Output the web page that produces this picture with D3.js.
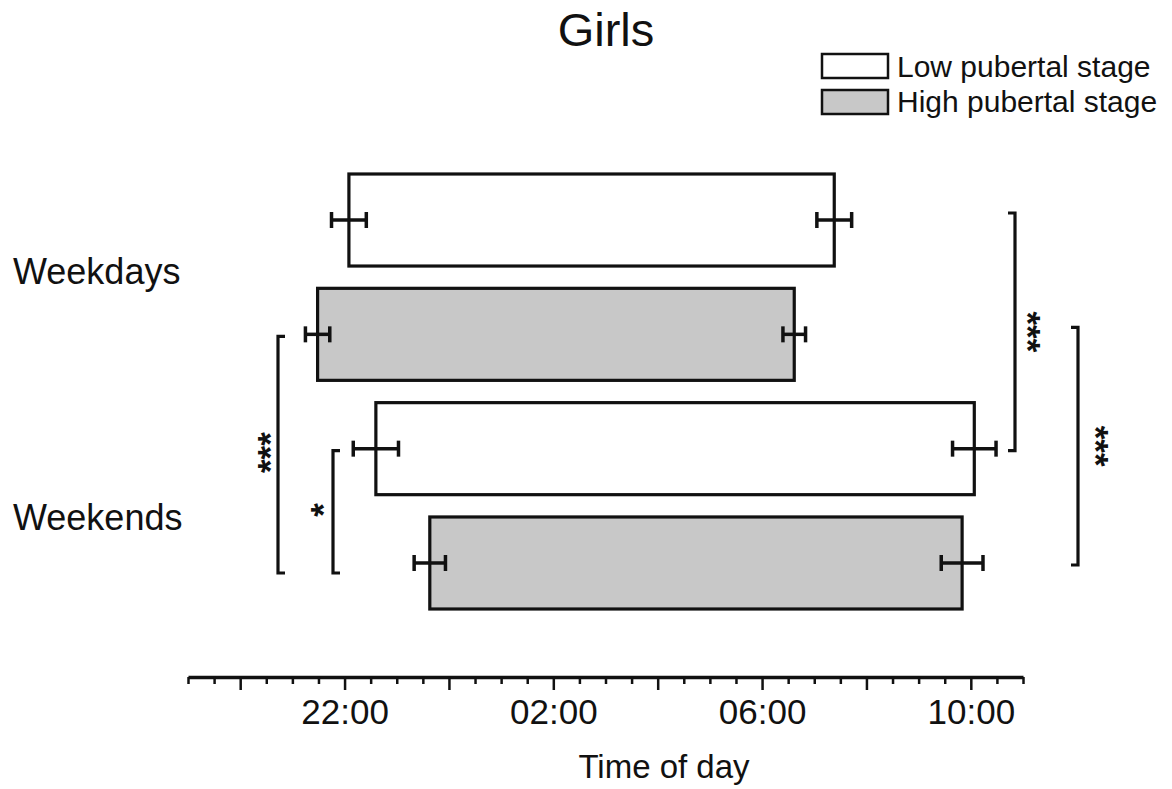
<!DOCTYPE html>
<html>
<head>
<meta charset="utf-8">
<script src="https://cdn.jsdelivr.net/npm/d3@7"></script>
<style>
  body { margin: 0; background: #fff; }
  text { font-family: "Liberation Sans", Arial, sans-serif; fill: #111; }
</style>
</head>
<body>
<div class="svg-target"></div>
<script>
// data (times, SEM in minutes)
const groups = ['Weekdays', 'Weekends'];
const stages = ['Low pubertal stage', 'High pubertal stage'];
const rows = ['Weekdays-Low', 'Weekdays-High', 'Weekends-Low', 'Weekends-High'];
const bedtime = ['22:05', '21:29', '22:36', '23:38'];
const bedtimeSem = [20, 14, 26, 18];
const waketime = ['07:23', '06:37', '10:04', '09:50'];
const waketimeSem = [20, 13, 25, 24];
const tickLabels = ['22:00', '02:00', '06:00', '10:00'];
// significance brackets: [first row, last row, stars]
const leftSig = [[1, 3, '***'], [2, 3, '*']];
const rightSig = [[0, 2, '***'], [1, 3, '***']];

const w = 1172;
const h = 789;
const fills = ['#ffffff', '#c8c8c8'];

// "HH:MM" -> hours after midnight of day one, morning times roll into next day
const toHours = s => {
    const [hh, mm] = s.split(':').map(Number);
    const v = hh + mm / 60;
    return v < 12 ? v + 24 : v;
};

const svg = d3.select('.svg-target')
    .append('svg')
    .attr('width', w)
    .attr('height', h);

const xScale = d3.scaleLinear()
    .domain([19, 35])
    .range([188, 1023]);

const yScale = d3.scaleBand()
    .domain(rows)
    .range([174, 609])
    .paddingInner(0.195);

const bw = yScale.bandwidth();
const mid = i => yScale(rows[i]) + bw / 2;

// title
svg.append('text')
    .attr('x', 606)
    .attr('y', 46)
    .attr('text-anchor', 'middle')
    .style('font-size', '47px')
    .text('Girls');

// legend
const legend = svg.append('g');
stages.forEach((s, i) => {
    legend.append('rect')
        .attr('x', 822)
        .attr('y', 54 + i * 36)
        .attr('width', 66)
        .attr('height', 24)
        .attr('fill', fills[i])
        .attr('stroke', '#111')
        .attr('stroke-width', 2.5);
    legend.append('text')
        .attr('x', 897)
        .attr('y', 77 + i * 35)
        .style('font-size', '30px')
        .text(s);
});

// bars
const bars = rows.map((r, i) => ({
    row: r,
    stage: i % 2,
    start: toHours(bedtime[i]),
    end: toHours(waketime[i]),
    semStart: bedtimeSem[i] / 60,
    semEnd: waketimeSem[i] / 60
}));

svg.selectAll('rect.bar')
    .data(bars)
    .enter()
    .append('rect')
        .attr('class', 'bar')
        .attr('x', d => xScale(d.start))
        .attr('y', d => yScale(d.row))
        .attr('width', d => xScale(d.end) - xScale(d.start))
        .attr('height', bw)
        .attr('fill', d => fills[d.stage])
        .attr('stroke', '#111')
        .attr('stroke-width', 3.2);

// error bars at both ends
const errs = [];
bars.forEach(d => {
    errs.push({ row: d.row, c: d.start, e: d.semStart });
    errs.push({ row: d.row, c: d.end, e: d.semEnd });
});
const eg = svg.selectAll('g.err')
    .data(errs)
    .enter()
    .append('g')
        .attr('class', 'err')
        .attr('stroke', '#111');
eg.append('line')
    .attr('x1', d => xScale(d.c - d.e))
    .attr('x2', d => xScale(d.c + d.e))
    .attr('y1', d => yScale(d.row) + bw / 2)
    .attr('y2', d => yScale(d.row) + bw / 2)
    .attr('stroke-width', 3.5);
[-1, 1].forEach(s => {
    eg.append('line')
        .attr('x1', d => xScale(d.c + s * d.e))
        .attr('x2', d => xScale(d.c + s * d.e))
        .attr('y1', d => yScale(d.row) + bw / 2 - 8)
        .attr('y2', d => yScale(d.row) + bw / 2 + 8)
        .attr('stroke-width', 3.5);
});

// group labels
const labelY = [284, 530];
groups.forEach((g, i) => {
    svg.append('text')
        .attr('x', 13)
        .attr('y', labelY[i])
        .style('font-size', '36px')
        .text(g);
});

// significance brackets
const bracket = (x, y1, y2, dir) => {
    svg.append('path')
        .attr('d', `M${x + dir * 7},${y1} H${x} V${y2} H${x + dir * 7}`)
        .attr('fill', 'none')
        .attr('stroke', '#111')
        .attr('stroke-width', 3.2);
};
const leftX = [278, 333];
const leftTextX = [282, 335];
leftSig.forEach(([a, b, s], i) => {
    const y1 = mid(a) + 2, y2 = mid(b) + 10;
    bracket(leftX[i], y1, y2, 1);
    svg.append('text')
        .attr('transform', `translate(${leftTextX[i]},${(y1 + y2) / 2 - 2}) rotate(-90)`)
        .attr('text-anchor', 'middle')
        .style('font-size', '35px')
        .style('font-weight', 'bold')
        .text(s);
});
const rightX = [1015, 1078];
const rightTextX = [1016, 1084];
rightSig.forEach(([a, b, s], i) => {
    const y1 = mid(a) - 7, y2 = mid(b) + 2;
    bracket(rightX[i], y1, y2, -1);
    svg.append('text')
        .attr('transform', `translate(${rightTextX[i]},${(y1 + y2) / 2}) rotate(90)`)
        .attr('text-anchor', 'middle')
        .style('font-size', '35px')
        .style('font-weight', 'bold')
        .text(s);
});

// x axis, half-hour ticks, longer every two hours
const tickVals = d3.range(19, 35.01, 0.5);
const xAxis = d3.axisBottom(xScale)
    .tickValues(tickVals)
    .tickSize(7)
    .tickSizeOuter(0)
    .tickFormat(d => {
        const hh = String(Math.round(d) % 24).padStart(2, '0') + ':00';
        return tickLabels.includes(hh) && d % 1 === 0 ? hh : '';
    });

const ax = svg.append('g')
    .attr('transform', 'translate(0, 677)')
    .call(xAxis);
ax.select('.domain')
    .attr('stroke', '#111')
    .attr('stroke-width', 3.5);
ax.selectAll('.tick line')
    .attr('stroke', '#111')
    .attr('stroke-width', 2.5)
    .attr('y2', d => (d % 2 === 0 && d !== 35 && d !== 19) ? 13 : 7);
ax.selectAll('.tick text')
    .attr('y', 22)
    .attr('dy', '0.71em')
    .style('font-size', '35px')
    .style('font-family', '"Liberation Sans", Arial, sans-serif')
    .attr('fill', '#111');

svg.append('text')
    .attr('x', 664)
    .attr('y', 778)
    .attr('text-anchor', 'middle')
    .style('font-size', '33px')
    .text('Time of day');
</script>
</body>
</html>
